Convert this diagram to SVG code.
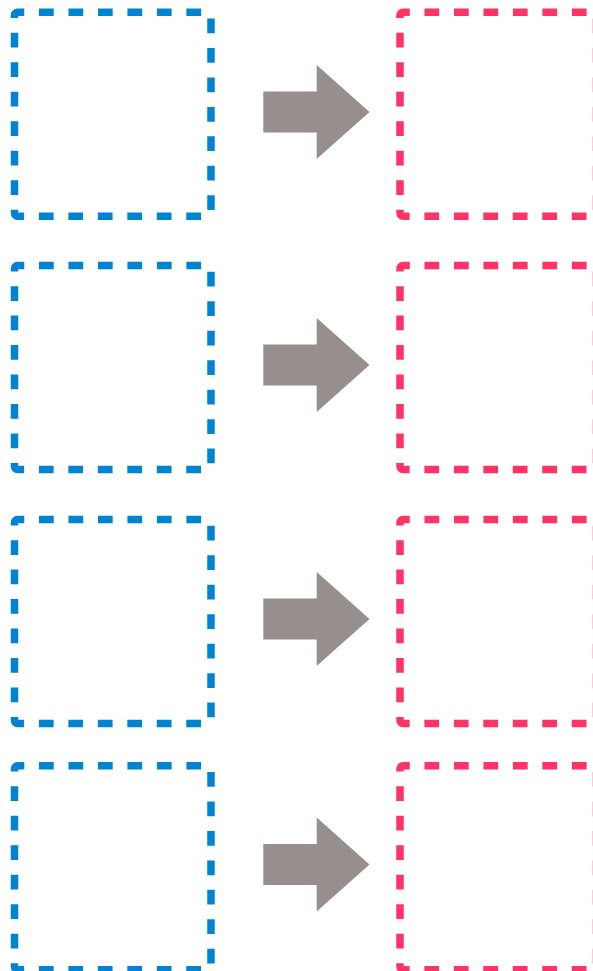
<svg xmlns="http://www.w3.org/2000/svg" xmlns:xlink="http://www.w3.org/1999/xlink" width="593" height="971" viewBox="0 0 593 971">
  <style>
    .box { fill: none; stroke-width: 7.5; stroke-dasharray: 14.738 14.738; stroke-dashoffset: 7.976; }
    .blue { stroke: #0084D1; }
    .pink { stroke: #FF3366; }
    .arrow { fill: #968F8E; }
  </style>
  <defs>
    <path id="boxShape" d="M3,0 H193.5 A3,3 0 0 1 196.5,3 V201 A3,3 0 0 1 193.5,204 H3 A3,3 0 0 1 0,201 V3 A3,3 0 0 1 3,0 Z"/>
    <polygon id="arrowShape" points="263.3,-20.5 316.7,-20.5 316.7,-47 369.5,0 316.7,47 316.7,20.5 263.3,20.5"/>
  </defs>
  <rect width="593" height="971" fill="#FFFFFF"/>
  <g id="left1"><use xlink:href="#boxShape" href="#boxShape" class="box blue" transform="translate(14.5,12.2)"/></g>
  <g id="left2"><use xlink:href="#boxShape" href="#boxShape" class="box blue" transform="translate(14.5,265.5)"/></g>
  <g id="left3"><use xlink:href="#boxShape" href="#boxShape" class="box blue" transform="translate(14.5,519.5)"/></g>
  <g id="left4"><use xlink:href="#boxShape" href="#boxShape" class="box blue" transform="translate(14.5,765.7)"/></g>
  <g id="right1"><use xlink:href="#boxShape" href="#boxShape" class="box pink" transform="translate(400,12.2)"/></g>
  <g id="right2"><use xlink:href="#boxShape" href="#boxShape" class="box pink" transform="translate(400,265.5)"/></g>
  <g id="right3"><use xlink:href="#boxShape" href="#boxShape" class="box pink" transform="translate(400,519.5)"/></g>
  <g id="right4"><use xlink:href="#boxShape" href="#boxShape" class="box pink" transform="translate(400,765.7)"/></g>
  <g id="connectors">
    <use xlink:href="#arrowShape" href="#arrowShape" class="arrow" transform="translate(0,112)"/>
    <use xlink:href="#arrowShape" href="#arrowShape" class="arrow" transform="translate(0,365)"/>
    <use xlink:href="#arrowShape" href="#arrowShape" class="arrow" transform="translate(0,619)"/>
    <use xlink:href="#arrowShape" href="#arrowShape" class="arrow" transform="translate(0,864.5)"/>
  </g>
</svg>
